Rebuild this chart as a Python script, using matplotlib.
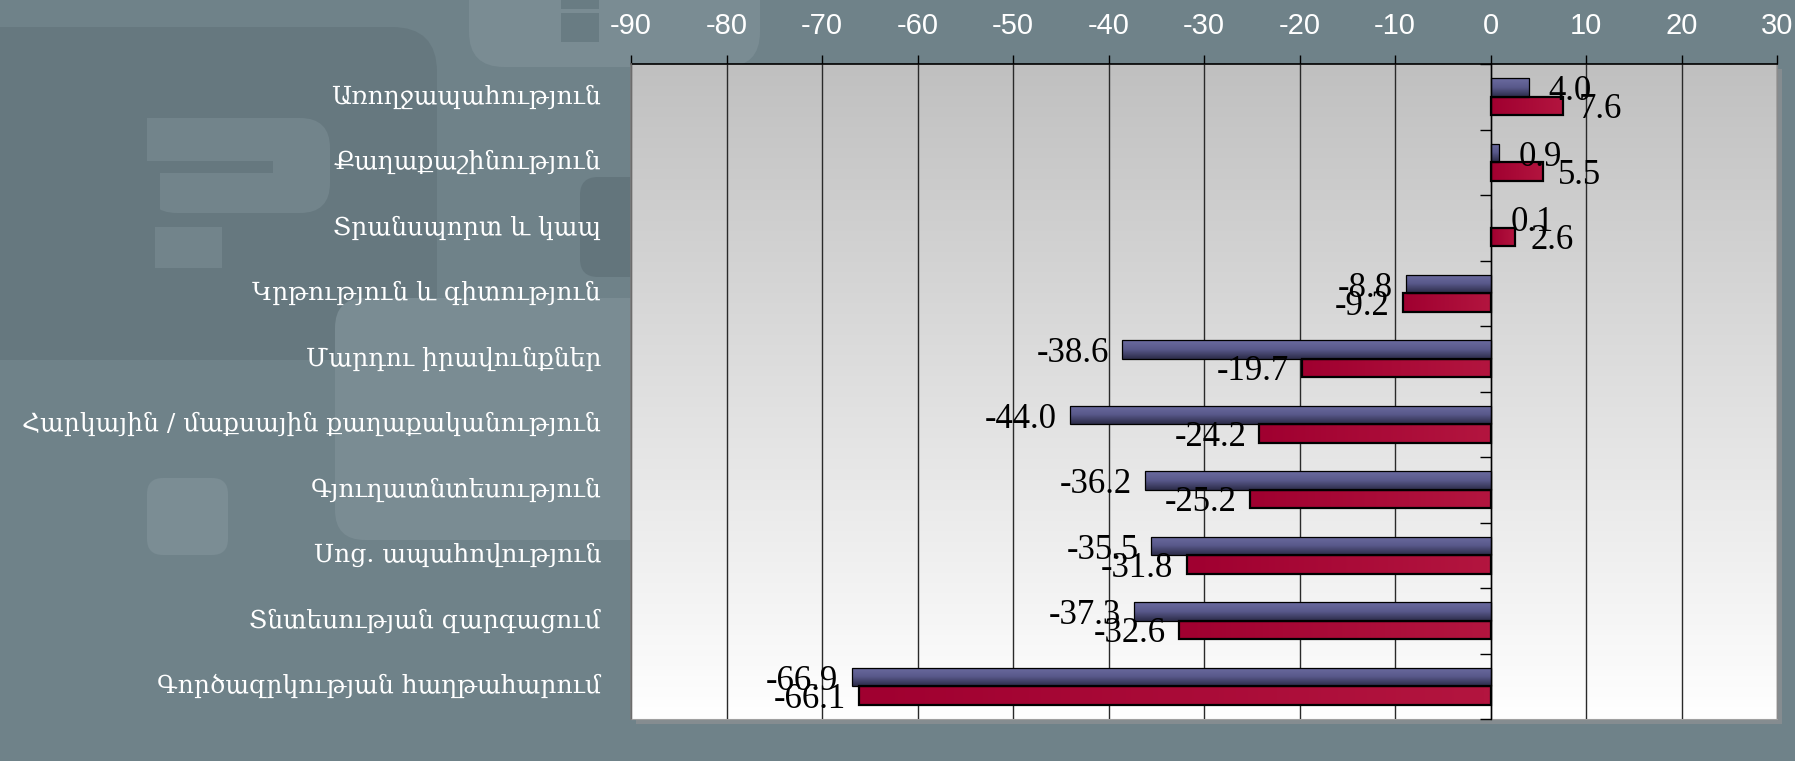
import numpy as np
import matplotlib
matplotlib.use('Agg')
import matplotlib.pyplot as plt
from matplotlib.patches import FancyBboxPatch, Rectangle
from matplotlib.colors import LinearSegmentedColormap
from matplotlib.transforms import blended_transform_factory

# ---------------- data ----------------
categories = [
    "Առողջապահություն",
    "Քաղաքաշինություն",
    "Տրանսպորտ և կապ",
    "Կրթություն և գիտություն",
    "Մարդու իրավունքներ",
    "Հարկային / մաքսային քաղաքականություն",
    "Գյուղատնտեսություն",
    "Սոց. ապահովություն",
    "Տնտեսության զարգացում",
    "Գործազրկության հաղթահարում",
]
series_blue = [4.0, 0.9, 0.1, -8.8, -38.6, -44.0, -36.2, -35.5, -37.3, -66.9]
series_red = [7.6, 5.5, 2.6, -9.2, -19.7, -24.2, -25.2, -31.8, -32.6, -66.1]
x_ticks = [-90, -80, -70, -60, -50, -40, -30, -20, -10, 0, 10, 20, 30]

W, H = 1795, 761
fig = plt.figure(figsize=(W / 100, H / 100), dpi=100)
BASE = '#6f8289'
DARK = '#66787f'
LIGHT = '#7a8c93'
fig.patch.set_facecolor(BASE)

# ---------------- background decoration (pixel coords) ----------------
bg = fig.add_axes([0, 0, 1, 1], zorder=-10)
bg.set_xlim(0, W)
bg.set_ylim(H, 0)
bg.axis('off')
def rrect(x0, y0, x1, y1, r, color):
    bg.add_patch(FancyBboxPatch((x0 + r, y0 + r), (x1 - x0) - 2 * r, (y1 - y0) - 2 * r,
                                boxstyle=f"round,pad={r}", fc=color, ec='none'))
rrect(-60, 27, 437, 360, 45, DARK)
rrect(469, -60, 760, 67, 35, LIGHT)
bg.add_patch(Rectangle((561, 13), 38, 29, fc='#697c83', ec='none'))
bg.add_patch(Rectangle((561, -5), 38, 14, fc='#697c83', ec='none'))
rrect(580, 177, 660, 277, 18, '#63757c')
rrect(335, 298, 700, 540, 30, LIGHT)
rrect(147, 478, 228, 555, 16, '#7b8d94')
# question-mark-like decoration
qc = '#72848b'
rrect(147, 118, 330, 213, 30, qc)
bg.add_patch(Rectangle((147, 118), 60, 40, fc=qc, ec='none'))
bg.add_patch(Rectangle((147, 161), 126, 12, fc=DARK, ec='none'))
bg.add_patch(Rectangle((147, 173), 13, 42, fc=DARK, ec='none'))
bg.add_patch(Rectangle((155, 227), 67, 41, fc=qc, ec='none'))

# ---------------- main axes ----------------
L, R, T, B = 631, 1777, 64, 719
# shadow of the plot area
bg.add_patch(Rectangle((L + 5, T + 5), R - L, B - T, fc='#858c90', ec='none'))

ax = fig.add_axes([L / W, (H - B) / H, (R - L) / W, (B - T) / H])
ax.set_facecolor('white')

n = len(categories)
y = np.arange(n)
bh = 0.28

# plot-area gradient
grad = np.linspace(0, 1, 256).reshape(-1, 1)
bg_cmap = LinearSegmentedColormap.from_list('bgc', ['#c0c0c0', '#ffffff'])
ax.imshow(grad, extent=[-90, 30, n - 0.5, -0.5], aspect='auto', cmap=bg_cmap,
          zorder=0, interpolation='bilinear')

bars_b = ax.barh(y - bh / 2, series_blue, height=bh, facecolor='none',
                 edgecolor='black', linewidth=0.9, zorder=4)
bars_r = ax.barh(y + bh / 2, series_red, height=bh, facecolor='none',
                 edgecolor='black', linewidth=1.6, zorder=4)

blue_cmap = LinearSegmentedColormap.from_list('bl', ['#6b6ba0', '#58588a', '#2c2c48'])
red_cmap = LinearSegmentedColormap.from_list('rd', ['#a00030', '#b3153f'])
vgrad = np.linspace(0, 1, 64).reshape(-1, 1)
hgrad = np.linspace(0, 1, 64).reshape(1, -1)
for p in bars_b:
    x0 = min(p.get_x(), p.get_x() + p.get_width())
    x1 = max(p.get_x(), p.get_x() + p.get_width())
    y0, y1 = p.get_y(), p.get_y() + p.get_height()
    im = ax.imshow(vgrad, extent=[x0, x1, y1, y0], aspect='auto', cmap=blue_cmap,
                   zorder=3, interpolation='bilinear')
    im.set_clip_path(p)
for p in bars_r:
    x0 = min(p.get_x(), p.get_x() + p.get_width())
    x1 = max(p.get_x(), p.get_x() + p.get_width())
    y0, y1 = p.get_y(), p.get_y() + p.get_height()
    im = ax.imshow(hgrad, extent=[x0, x1, y1, y0], aspect='auto', cmap=red_cmap,
                   zorder=3, interpolation='bilinear')
    im.set_clip_path(p)

# data labels
lab_font = dict(family=['Liberation Serif', 'DejaVu Serif'], size=25, color='black')
for vals, yy, pos_off in ((series_blue, y - bh / 2, 14.0), (series_red, y + bh / 2, 11.0)):
    for v, yc in zip(vals, yy):
        if v >= 0:
            ax.annotate(f"{v:.1f}", (v, yc), xytext=(pos_off, 0), textcoords='offset points',
                        ha='left', va='center_baseline', zorder=6, **lab_font)
        else:
            ax.annotate(f"{v:.1f}", (v, yc), xytext=(-9.5, 0), textcoords='offset points',
                        ha='right', va='center_baseline', zorder=6, **lab_font)

# axes limits
ax.set_xlim(-90, 30)
ax.set_ylim(n - 0.5, -0.5)

# x axis at top
ax.xaxis.tick_top()
ax.set_xticks(x_ticks)
ax.set_xticklabels([str(t) for t in x_ticks], family=['Liberation Sans', 'DejaVu Sans'],
                   size=21, color='white')
ax.tick_params(axis='x', direction='out', length=6.5, width=1.0, color='black', pad=11)
ax.xaxis.grid(True, color='#2a2a2a', linewidth=1.0, zorder=1)
ax.set_axisbelow(False)
for gl in ax.get_xgridlines():
    gl.set_zorder(1)

# y axis at zero with ticks at category boundaries
ax.spines['left'].set_position(('data', 0))
ax.spines['left'].set_color('black')
ax.spines['left'].set_linewidth(1.0)
ax.spines['left'].set_zorder(5)
ax.set_yticks(np.arange(-0.5, n, 1.0))
ax.set_yticklabels([])
ax.tick_params(axis='y', direction='out', length=8, width=1.0, color='black')

ax.spines['top'].set_color('black')
ax.spines['top'].set_linewidth(1.2)
ax.spines['right'].set_color('#8a8a8a')
ax.spines['bottom'].set_color('#a0a0a0')
ax.plot([0, 0], [0, 1], transform=ax.transAxes, color='#7a7a7a', lw=1.2, clip_on=False, zorder=5)

# category labels
trans = blended_transform_factory(ax.transAxes, ax.transData)
for i, c in enumerate(categories):
    ax.text(-30 / (R - L), i, c, transform=trans, ha='right', va='center',
            family=['DejaVu Serif'], size=18, color='white')

fig.savefig('out.png', dpi=100, facecolor=fig.get_facecolor())
